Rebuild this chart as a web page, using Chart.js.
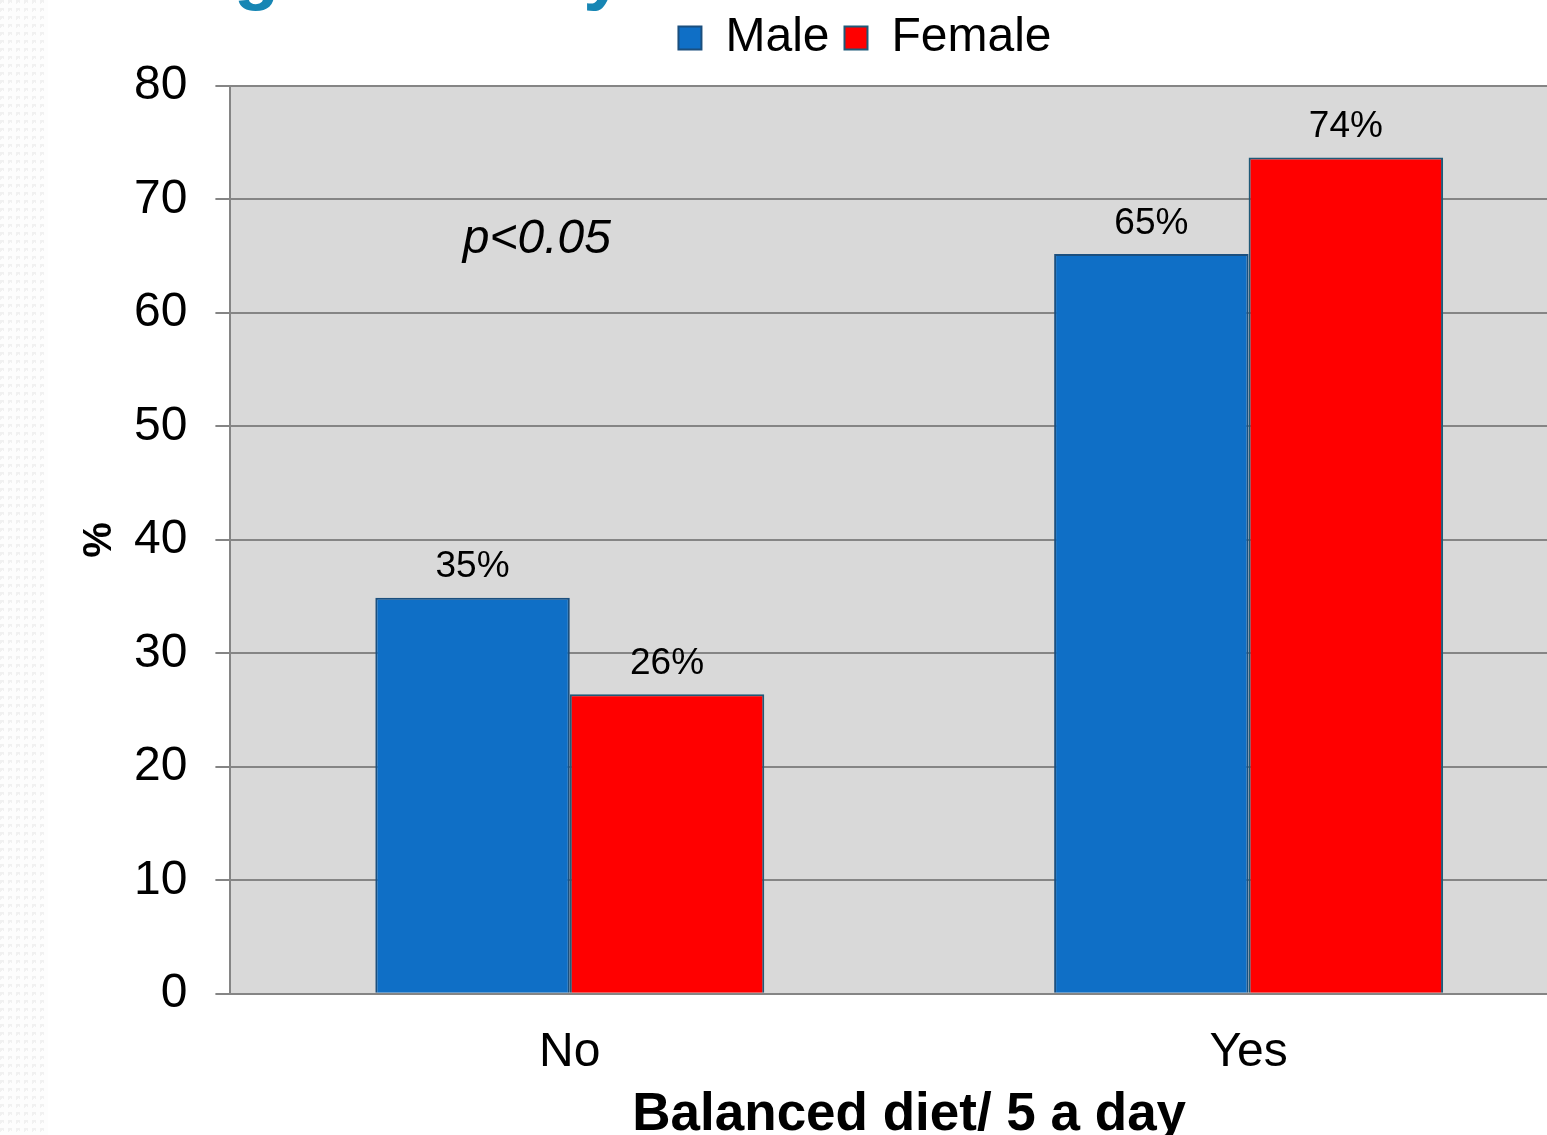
<!DOCTYPE html>
<html>
<head>
<meta charset="utf-8">
<script src="https://cdn.jsdelivr.net/npm/chart.js@4.4.0/dist/chart.umd.min.js"></script>
<style>
    html, body { margin: 0; padding: 0; background: #fff; overflow: hidden; }
    body { width: 1547px; height: 1135px; position: relative; }
    #strip {
        position: absolute; left: 0; top: 0; width: 48px; height: 1135px;
        background-color: #fdfdfd;
        background-image:
            linear-gradient(135deg, #f1f1f1 25%, transparent 25%),
            linear-gradient(225deg, #f1f1f1 25%, transparent 25%);
        background-size: 8px 8px;
        background-position: 0 0, 4px 0;
    }
    #slideTitle {
        position: absolute; left: 53px; top: -66px; margin: 0;
        font: bold 74px "Liberation Sans", Arial, sans-serif; line-height: 1;
        color: #1786b4; white-space: nowrap;
    }
    #wrap { position: absolute; left: 0; top: 0; width: 1600px; height: 1151px; }
</style>
</head>
<body>
<div id="strip"></div>
<h1 id="slideTitle">Eating habits by</h1>
<div id="wrap"><canvas id="dietChart" width="1600" height="1151"></canvas></div>
<script>
const categories = ['No', 'Yes'];
const maleValues = [34.9, 65.2];
const femaleValues = [26.4, 73.7];
const seriesNames = ['Male', 'Female'];
const yTicks = [0, 10, 20, 30, 40, 50, 60, 70, 80];
const note = 'p<0.05';

const FONT = '"Liberation Sans", Arial, sans-serif';

// grey plot background
const plotBackground = {
    id: 'plotBackground',
    beforeDraw(chart) {
        const { ctx, chartArea } = chart;
        ctx.save();
        ctx.fillStyle = '#d9d9d9';
        ctx.fillRect(chartArea.left, chartArea.top, chartArea.right - chartArea.left, chartArea.bottom - chartArea.top);
        ctx.restore();
    }
};

// percentage labels over the bars + p value note
const valueLabels = {
    id: 'valueLabels',
    afterDatasetsDraw(chart) {
        const ctx = chart.ctx;
        ctx.save();
        ctx.font = '37px ' + FONT;
        ctx.fillStyle = '#000';
        ctx.textAlign = 'center';
        ctx.textBaseline = 'bottom';
        chart.data.datasets.forEach((ds, i) => {
            chart.getDatasetMeta(i).data.forEach((bar, j) => {
                ctx.fillText(Math.round(ds.data[j]) + '%', bar.x, bar.y - 12);
            });
        });
        const x = chart.scales.x.getPixelForValue(0) - 33;
        const y = chart.scales.y.getPixelForValue(66.5);
        ctx.font = 'italic 48px ' + FONT;
        ctx.textBaseline = 'middle';
        ctx.fillText(note, x, y);
        ctx.restore();
    }
};

// legend sits a little right of the canvas centre and tight to the top
const legendShift = {
    id: 'legendShift',
    afterLayout(chart) {
        const lg = chart.legend;
        const dx = 865 - (lg.left + lg.right) / 2;
        lg.left += dx;
        lg.right += dx;
        lg.top -= 14;
        lg.bottom -= 14;
    }
};

const ctx = document.getElementById('dietChart').getContext('2d');
new Chart(ctx, {
    type: 'bar',
    data: {
        labels: categories,
        datasets: [
            {
                label: seriesNames[0],
                data: maleValues,
                backgroundColor: '#0f6fc6',
                borderColor: '#1b4f7e',
                borderWidth: 2,
                borderSkipped: 'bottom'
            },
            {
                label: seriesNames[1],
                data: femaleValues,
                backgroundColor: '#ff0000',
                borderColor: '#1f5a78',
                borderWidth: 2,
                borderSkipped: 'bottom'
            }
        ]
    },
    options: {
        responsive: false,
        animation: false,
        devicePixelRatio: 1,
        datasets: {
            bar: { categoryPercentage: 0.573, barPercentage: 1 }
        },
        layout: { padding: { left: 72, top: 13, right: 12, bottom: 0 } },
        plugins: {
            tooltip: { enabled: false },
            legend: {
                position: 'top',
                labels: {
                    font: { family: FONT, size: 48 },
                    color: '#000',
                    boxWidth: 23,
                    boxHeight: 23,
                    padding: 15,
                    generateLabels(chart) {
                        return chart.data.datasets.map((ds, i) => ({
                            text: ds.label,
                            fillStyle: ds.backgroundColor,
                            strokeStyle: ds.borderColor,
                            lineWidth: 2,
                            datasetIndex: i,
                            fontColor: '#000'
                        }));
                    }
                }
            }
        },
        scales: {
            x: {
                grid: { display: false },
                border: { display: true, color: '#858585', width: 2 },
                ticks: { color: '#000', font: { family: FONT, size: 48 }, padding: 22 },
                title: {
                    display: true,
                    text: 'Balanced diet/ 5 a day',
                    color: '#000',
                    font: { family: FONT, size: 53, weight: 'bold' },
                    padding: { top: 4, bottom: 4 }
                },
                afterFit(scale) {
                    scale.height -= 24;
                }
            },
            y: {
                min: 0,
                max: 80,
                afterBuildTicks(scale) {
                    scale.ticks = yTicks.map(v => ({ value: v }));
                },
                grid: { color: '#858585', lineWidth: 2, tickLength: 15 },
                border: { display: true, color: '#858585', width: 2 },
                ticks: { color: '#000', font: { family: FONT, size: 48 }, padding: 28 },
                title: {
                    display: true,
                    text: '%',
                    color: '#000',
                    font: { family: FONT, size: 40, weight: 'bold' },
                    padding: { top: 4, bottom: 10 }
                },
                afterFit(scale) {
                    // tick padding is counted on both sides of the labels; keep only one
                    scale.width -= scale.options.ticks.padding;
                }
            }
        }
    },
    plugins: [plotBackground, valueLabels, legendShift]
});
</script>
</body>
</html>
